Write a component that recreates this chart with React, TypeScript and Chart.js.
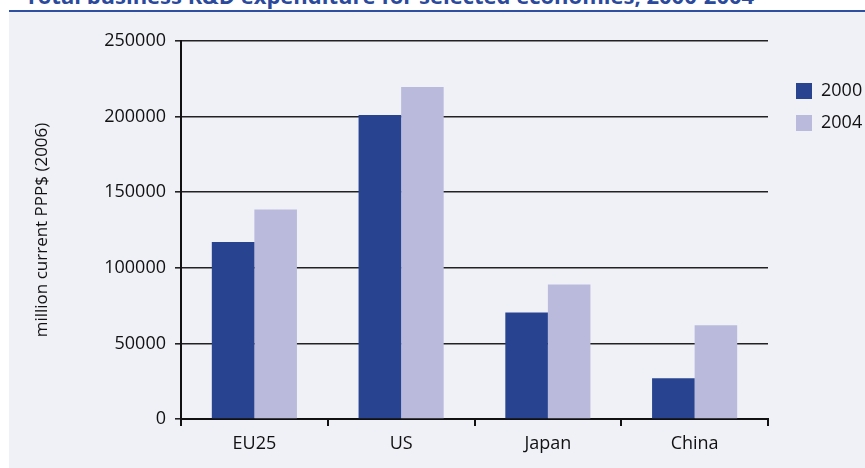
import React, { useEffect, useRef } from "react";
import { Chart, registerables } from "chart.js";

Chart.register(...registerables);

const categories = ["EU25", "US", "Japan", "China"];
const series2000 = [117000, 201000, 70500, 27000];
const series2004 = [138500, 219500, 89000, 62000];
const seriesLabels = ["2000", "2004"];
const yTicksMax = 250000;
const yTicksStep = 50000;

const FONT = "'Open Sans', 'Noto Sans', sans-serif";

export default function App() {
  const canvasRef = useRef<HTMLCanvasElement | null>(null);

  useEffect(() => {
    const canvas = canvasRef.current;
    if (!canvas) return;
    const chart = new Chart(canvas, {
      type: "bar",
      data: {
        labels: categories,
        datasets: [
          {
            label: seriesLabels[0],
            data: series2000,
            backgroundColor: "#284490",
            borderWidth: 0,
            categoryPercentage: 0.58,
            barPercentage: 1,
          },
          {
            label: seriesLabels[1],
            data: series2004,
            backgroundColor: "#babbdc",
            borderWidth: 0,
            categoryPercentage: 0.58,
            barPercentage: 1,
          },
        ],
      },
      options: {
        animation: false,
        responsive: false,
        maintainAspectRatio: false,
        layout: { padding: { top: 41, left: 0, right: 0, bottom: 0 } },
        plugins: {
          tooltip: { enabled: false },
          legend: {
            position: "right",
            align: "start",
            maxWidth: 83,
            title: { display: true, text: " ", font: { size: 10 }, padding: 7.5 },
            labels: {
              boxWidth: 16,
              boxHeight: 16,
              padding: 14,
              color: "#111",
              font: { family: FONT, size: 18 },
            },
          },
        },
        scales: {
          x: {
            grid: {
              display: true,
              drawOnChartArea: false,
              drawTicks: true,
              tickLength: 7,
              color: "#111",
              lineWidth: 2,
              offset: true,
            },
            border: { display: true, color: "#111", width: 2 },
            ticks: { color: "#111", padding: 7, font: { family: FONT, size: 18 } },
            afterFit: (scale: any) => {
              scale.height = 49;
            },
          },
          y: {
            min: 0,
            max: yTicksMax,
            grid: {
              color: "#222",
              lineWidth: 1.6,
              drawTicks: true,
              tickLength: 6,
            },
            border: { display: true, color: "#111", width: 2 },
            ticks: {
              stepSize: yTicksStep,
              color: "#111",
              padding: 9,
              font: { family: FONT, size: 18 },
              callback: (v: any) => String(v),
            },
            title: {
              display: true,
              text: "million current PPP$ (2006)",
              color: "#111",
              font: { family: FONT, size: 17 },
              padding: { top: 32, bottom: 0 },
            },
            afterFit: (scale: any) => {
              scale.width = 181;
            },
          },
          y2: {
            position: "right",
            display: true,
            grid: { display: false, drawOnChartArea: false },
            border: { display: false },
            ticks: { display: false },
            afterFit: (scale: any) => {
              scale.width = 14;
            },
          },
        },
      },
    });
    return () => chart.destroy();
  }, []);

  return (
    <div style={{ position: "fixed", left: 0, top: 0, width: 865, height: 468, overflow: "hidden", background: "#ffffff" }}>
      <div
        style={{
          position: "absolute",
          left: 25,
          top: -16,
          whiteSpace: "nowrap",
          fontFamily: FONT,
          fontWeight: 700,
          fontSize: 22,
          lineHeight: "22px",
          color: "#2b4a9b",
        }}
      >
        Total business R&amp;D expenditure for selected economies, 2000-2004
      </div>
      <div style={{ position: "absolute", left: 9, top: 10, width: 856, height: 2, background: "#2f4fa0" }} />
      <div style={{ position: "absolute", left: 9, top: 12, width: 856, height: 456, background: "#f0f1f7" }} />
      <canvas ref={canvasRef} width={865} height={468} style={{ position: "absolute", left: 0, top: 0, width: 865, height: 468 }} />
    </div>
  );
}
